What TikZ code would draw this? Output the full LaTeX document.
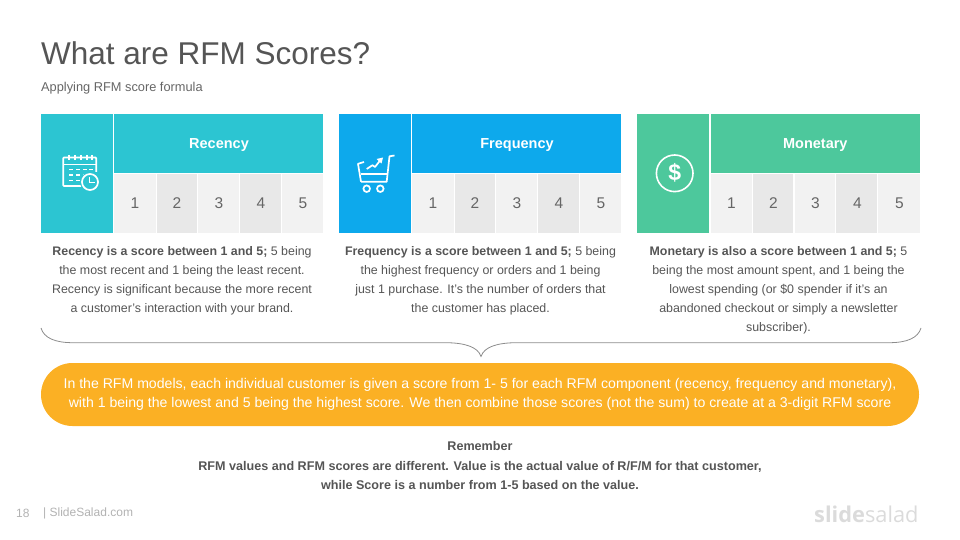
\documentclass[tikz,border=0pt]{standalone}
\usepackage{fontspec}
\setmainfont{Liberation Sans}
\newfontfamily\logofont{Open Sans}
\definecolor{rcol}{HTML}{2CC5D2}
\definecolor{fcol}{HTML}{0DA9EC}
\definecolor{mcol}{HTML}{4DC89C}
\definecolor{goldc}{HTML}{FBB024}
\definecolor{cellA}{HTML}{F2F2F2}
\definecolor{cellB}{HTML}{E8E8E8}
\definecolor{bodyc}{HTML}{555555}
\definecolor{numc}{HTML}{666666}
\tikzset{
  bodytext/.style={text=bodyc,anchor=north,align=center,inner sep=0,font=\fontsize{12.4}{19}\selectfont},
  headtext/.style={text=white,font=\fontsize{14.5}{16}\selectfont\bfseries},
  numtext/.style={text=numc,font=\fontsize{15.5}{18}\selectfont},
  iconline/.style={draw=white,line width=1.7pt},
}
\begin{document}
\begin{tikzpicture}[x=1pt,y=-1pt]
\useasboundingbox (0,0) rectangle (960,540);
\node[anchor=west,inner sep=0,text=bodyc,font=\fontsize{31.5}{36}\selectfont] (title) at (41,53) {What are RFM Scores?};
\node[anchor=west,inner sep=0,text=numc,font=\fontsize{12.8}{14}\selectfont] (subtitle) at (41,88.5) {Applying RFM score formula};
% cards
\foreach \ox/\col/\nm in {0/rcol/Recency,298/fcol/Frequency,596.3/mcol/Monetary}{
  \begin{scope}[xshift=\ox pt]
    \fill[\col] (41,114) rectangle (113,233);
    \fill[\col] (114.2,114) rectangle (323.3,173.3);
    \node[headtext] (head\nm) at (219,145) {\nm};
    \fill[cellA] (114.2,174.4) rectangle (155.7,233);
    \fill[cellB] (156.7,174.4) rectangle (196.9,233);
    \fill[cellA] (198.3,174.4) rectangle (239,233);
    \fill[cellB] (240,174.4) rectangle (280.8,233);
    \fill[cellA] (282,174.4) rectangle (323.3,233);
    \node[numtext] (a\nm) at (135,203.5) {1};
    \node[numtext] (b\nm) at (177,203.5) {2};
    \node[numtext] (c\nm) at (219,203.5) {3};
    \node[numtext] (d\nm) at (261,203.5) {4};
    \node[numtext] (e\nm) at (303,203.5) {5};
  \end{scope}
}
% calendar icon
\draw[iconline,rounded corners=0.8pt] (85,186) -- (63.2,186) -- (63.2,157.5) -- (96.2,157.5) -- (96.2,172);
\draw[iconline] (63.2,164.5) -- (96.2,164.5);
\foreach \xx in {69,75,81,87,92}{\draw[white,line width=1.5pt] (\xx,155) -- (\xx,160);}
\foreach \xx/\yy in {71/169.5,78/169.5,85/169.5,91/169.5,71/175,78/175,85/175,71/180.5,78/180.5}{\fill[white] (\xx-2.3,\yy-0.9) rectangle (\xx+2.3,\yy+0.9);}
\fill[rcol] (90,182) circle (10);
\draw[iconline] (90,182) circle (8);
\draw[white,line width=1.5pt] (89.5,177) -- (89.5,182.5) -- (94.5,182.5);
% cart icon
\draw[iconline,line join=round] (394.5,155.5) -- (389.5,156.3) -- (386.7,181.7) -- (361,181.7);
\draw[iconline,line join=round] (364,162) -- (358,163.8) -- (361,181.7);
\draw[iconline] (361,174) -- (387.5,174);
\draw[iconline] (366.7,188.7) circle (3.3);
\draw[iconline] (380.3,188.7) circle (3.3);
\draw[white,line width=1.7pt,line join=round] (366.7,169) -- (372.5,165.2) -- (375,167) -- (380.5,160);
\fill[white] (383,157.5) -- (376.5,159) -- (381.5,163.5) -- cycle;
% dollar icon
\draw[white,line width=1.6pt] (674.7,173.3) circle (18.3);
\node[text=white,inner sep=0,font=\fontsize{23}{25}\selectfont\bfseries] (dollar) at (674.7,173.3) {\$};
% descriptions
\node[bodytext] (trecency) at (182,246) {\textbf{Recency is a score between 1 and 5;} 5 being\\the most recent and 1 being the least recent.\\Recency is significant because the more recent\\a customer's interaction with your brand.};
\node[bodytext] (tfrequency) at (480.5,246) {\textbf{Frequency is a score between 1 and 5;} 5 being\\the highest frequency or orders and 1 being\\just 1 purchase. It's the number of orders that\\the customer has placed.};
\node[bodytext] (tmonetary) at (778.5,246) {\textbf{Monetary is also a score between 1 and 5;} 5\\being the most amount spent, and 1 being the\\lowest spending (or \$0 spender if it's an\\abandoned checkout or simply a newsletter\\subscriber).};
% brace
\draw[color=black!45,line width=0.8pt] (41,328) .. controls (44,338) and (55,342.7) .. (73,342.7) -- (445,342.7) .. controls (465,342.7) and (478,347) .. (481,356.5) .. controls (484,347) and (497,342.7) .. (517,342.7) -- (889,342.7) .. controls (907,342.7) and (918,338) .. (921,328);
% pill
\node[fill=goldc,rounded corners=31.5pt,minimum width=878pt,minimum height=63pt,inner sep=0,text=white,align=center,font=\fontsize{14.1}{19}\selectfont] (pill) at (480,394.5) {In the RFM models, each individual customer is given a score from 1- 5 for each RFM component (recency, frequency and monetary),\\with 1 being the lowest and 5 being the highest score. We then combine those scores (not the sum) to create at a 3-digit RFM score};
% remember
\node[bodytext,font=\fontsize{12.6}{19.3}\selectfont\bfseries] (remember) at (480,441.5) {Remember\\RFM values and RFM scores are different. Value is the actual value of R/F/M for that customer,\\while Score is a number from 1-5 based on the value.};
% footer
\node[anchor=west,inner sep=0,text=black!30,font=\fontsize{12}{14}\selectfont] (pagenum) at (16,513.5) {18};
\node[anchor=west,inner sep=0,text=black!30,font=\fontsize{12}{14}\selectfont] (site) at (43,513.5) {| SlideSalad.com};
\node[anchor=west,inner sep=0,text=black!14,font=\logofont\fontsize{21.8}{26}\selectfont] (logo) at (814,514) {\textbf{slide}salad};
\end{tikzpicture}
\end{document}
